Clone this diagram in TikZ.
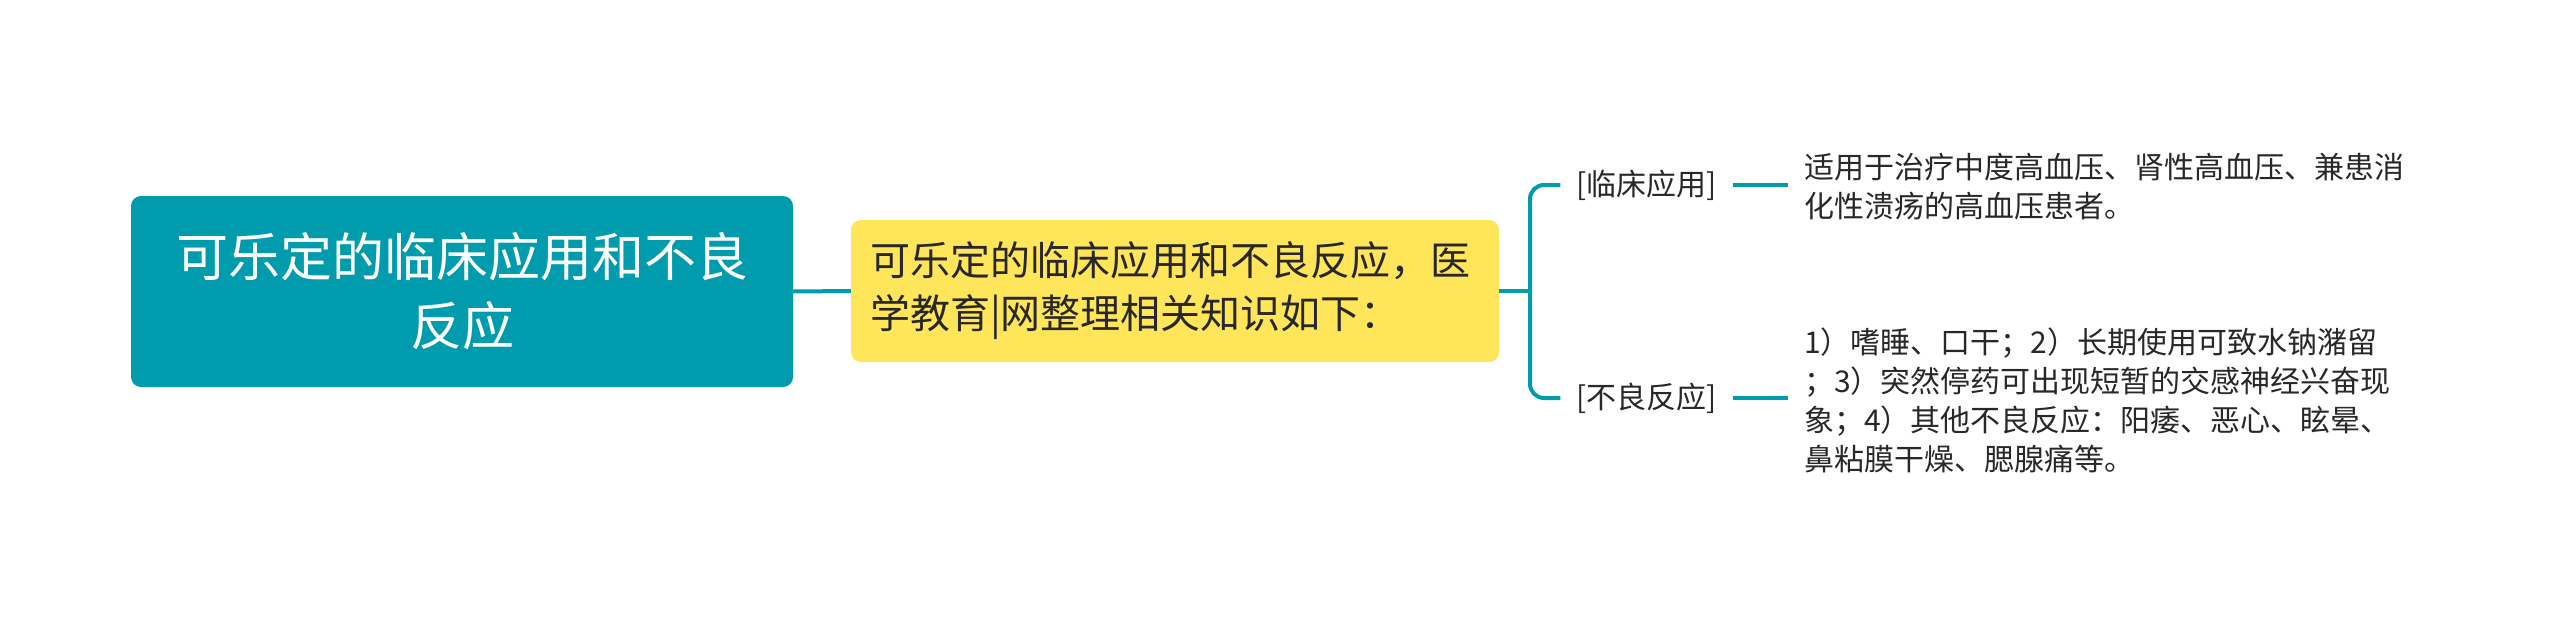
\documentclass[tikz,border=0pt]{standalone}
\usepackage{fontspec}
\setmainfont{Noto Sans CJK SC}
\definecolor{tealone}{RGB}{0,155,173}
\definecolor{yellowone}{RGB}{255,229,90}
\definecolor{txt}{RGB}{40,40,40}
\begin{document}
\begin{tikzpicture}[x=1pt,y=-1pt,
  conn/.style={draw=tealone, line width=4pt},
  rootbox/.style={fill=tealone, rounded corners=10pt, minimum width=662pt, minimum height=191pt, text=white, align=center, font=\fontsize{52}{69}\selectfont, inner sep=0pt},
  midbox/.style={fill=yellowone, rounded corners=10pt, minimum width=648pt, minimum height=142pt, text=txt, align=left, font=\fontsize{40}{53}\selectfont, inner xsep=19pt, inner ysep=0pt, text width=610pt},
  lab/.style={text=txt, font=\fontsize{30}{39}\selectfont, inner sep=0pt, outer sep=16pt},
  leaf/.style={text=txt, font=\fontsize{30}{39}\selectfont, align=left, inner sep=0pt, outer sep=16pt, anchor=west}]
\useasboundingbox (0,0) rectangle (2560,624);
\node[rootbox] (root) at (462,291.5) {可乐定的临床应用和不良\\反应};
\node[midbox] (mid) at (1175,291) {可乐定的临床应用和不良反应，医\\学教育|网整理相关知识如下：};
\node[lab] (lab1) at (1646.5,185) {[临床应用]};
\node[lab] (lab2) at (1646.5,398) {[不良反应]};
\node[leaf] (t1) at (1788,186.5) {适用于治疗中度高血压、肾性高血压、兼患消\\化性溃疡的高血压患者。};
\node[leaf] (t2) at (1788,400) {1）嗜睡、口干；2）长期使用可致水钠潴留\\；3）突然停药可出现短暂的交感神经兴奋现\\象；4）其他不良反应：阳痿、恶心、眩晕、\\鼻粘膜干燥、腮腺痛等。};
\coordinate (bx) at (1530,291);
\draw[conn] (root.east) -- (mid.west);
\draw[conn] (mid.east) -- (bx);
\draw[conn, rounded corners=14pt] (lab1.west) -| (bx) |- (lab2.west);
\draw[conn] (lab1.east) -- (lab1.east -| t1.west);
\draw[conn] (lab2.east) -- (lab2.east -| t2.west);
\end{tikzpicture}
\end{document}
